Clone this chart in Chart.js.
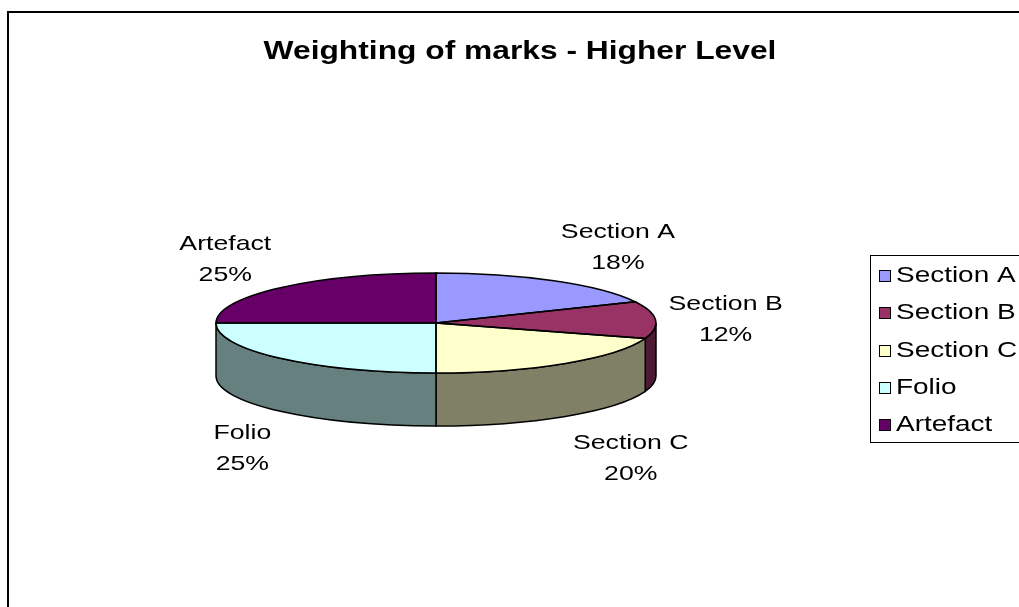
<!DOCTYPE html>
<html>
<head>
<meta charset="utf-8">
<title>Weighting of marks - Higher Level</title>
<script src="https://cdn.jsdelivr.net/npm/chart.js@4"></script>
<style>
    body { margin: 0; background: #fff; }
    canvas { display: block; }
</style>
</head>
<body>
<canvas id="marksChart" width="1019" height="607"></canvas>
<script>
// chart data
const categories = ['Section A', 'Section B', 'Section C', 'Folio', 'Artefact'];
const weights = [18, 12, 20, 25, 25];
const topColors = ['#9999FF', '#993366', '#FFFFCC', '#CCFFFF', '#660066'];
const sideColors = ['#4D4D80', '#4D1A33', '#808066', '#668080', '#330033'];
const chartTitle = 'Weighting of marks - Higher Level';

const FONT = '"Liberation Sans", Arial, sans-serif';
const STRETCH = 1.27;

// where the flattened pie sits on the page
const pie = { x: 436, y: 323, rx: 220, ry: 50, depth: 53 };

function stretchText(ctx, str, x, y) {
    ctx.save();
    ctx.translate(x, y);
    ctx.scale(STRETCH, 1);
    ctx.fillText(str, 0, 0);
    ctx.restore();
}

function sectorPath(ctx, s, e) {
    ctx.beginPath();
    ctx.moveTo(pie.x, pie.y);
    ctx.ellipse(pie.x, pie.y, pie.rx, pie.ry, 0, s, e);
    ctx.closePath();
}

const pie3d = {
    id: 'pie3d',
    beforeDatasetsDraw: function(chart) {
        let ctx = chart.ctx;
        let arcs = chart.getDatasetMeta(0).data;
        // side walls, only the front half (canvas angles 0..PI) is visible
        arcs.forEach((arc, i) => {
            let s = Math.max(arc.startAngle, 0);
            let e = Math.min(arc.endAngle, Math.PI);
            if (s >= e) return;
            ctx.save();
            ctx.beginPath();
            ctx.ellipse(pie.x, pie.y, pie.rx, pie.ry, 0, s, e);
            ctx.lineTo(pie.x + pie.rx * Math.cos(e), pie.y + pie.ry * Math.sin(e) + pie.depth);
            ctx.ellipse(pie.x, pie.y + pie.depth, pie.rx, pie.ry, 0, e, s, true);
            ctx.closePath();
            ctx.fillStyle = sideColors[i];
            ctx.fill();
            ctx.lineWidth = 1.5;
            ctx.strokeStyle = '#000';
            ctx.stroke();
            ctx.restore();
        });
    },
    beforeDatasetDraw: function(chart) {
        let ctx = chart.ctx;
        let arc = chart.getDatasetMeta(0).data[0];
        let r = arc.outerRadius;
        ctx.save();
        ctx.translate(pie.x, pie.y);
        ctx.scale(pie.rx / r, pie.ry / r);
        ctx.translate(-arc.x, -arc.y);
    },
    afterDatasetDraw: function(chart) {
        let ctx = chart.ctx;
        ctx.restore();
        // outline of the top face
        let arcs = chart.getDatasetMeta(0).data;
        ctx.save();
        ctx.lineWidth = 1.5;
        ctx.strokeStyle = '#000';
        arcs.forEach(arc => {
            sectorPath(ctx, arc.startAngle, arc.endAngle);
            ctx.stroke();
        });
        ctx.restore();
    },
    afterDraw: function(chart) {
        let ctx = chart.ctx;
        let arcs = chart.getDatasetMeta(0).data;
        let total = weights.reduce((a, b) => a + b, 0);
        ctx.save();

        // chart frame
        ctx.lineWidth = 2;
        ctx.strokeStyle = '#000';
        ctx.strokeRect(8, 12, 1100, 1000);

        // title
        ctx.fillStyle = '#000';
        ctx.textAlign = 'center';
        ctx.textBaseline = 'alphabetic';
        ctx.font = 'bold 25px ' + FONT;
        stretchText(ctx, chartTitle, 520, 59);

        // data labels
        ctx.font = '21px ' + FONT;
        ctx.textBaseline = 'middle';
        arcs.forEach((arc, i) => {
            let mid = (arc.startAngle + arc.endAngle) / 2;
            let lines = [categories[i], Math.round(weights[i] / total * 100) + '%'];
            let w = Math.max(...lines.map(t => ctx.measureText(t).width)) * STRETCH;
            let cos = Math.cos(mid), sin = Math.sin(mid);
            let lx = pie.x + (pie.rx + 13) * cos + Math.sign(cos) * w / 2;
            let ly = pie.y + (pie.ry + 42) * sin + (sin > 0 ? pie.depth + 6 : 0) + 2;
            stretchText(ctx, lines[0], lx, ly - 15.5);
            stretchText(ctx, lines[1], lx, ly + 15.5);
        });

        // legend
        ctx.lineWidth = 1;
        ctx.strokeRect(870.5, 255.5, 300, 187);
        ctx.textAlign = 'left';
        ctx.font = '22px ' + FONT;
        categories.forEach((name, i) => {
            let y = 276 + i * 37.3;
            ctx.fillStyle = topColors[i];
            ctx.fillRect(879.5, Math.round(y) - 5.5, 11, 11);
            ctx.strokeStyle = '#000';
            ctx.strokeRect(879.5, Math.round(y) - 5.5, 11, 11);
            ctx.fillStyle = '#000';
            stretchText(ctx, name, 896, y);
        });
        ctx.restore();
    }
};

new Chart(document.getElementById('marksChart'), {
    type: 'pie',
    data: {
        labels: categories,
        datasets: [{
            data: weights,
            backgroundColor: topColors,
            borderWidth: 0,
            clip: false
        }]
    },
    options: {
        responsive: false,
        animation: false,
        events: [],
        layout: { padding: 150 },
        plugins: {
            legend: { display: false },
            title: { display: false },
            tooltip: { enabled: false }
        }
    },
    plugins: [pie3d]
});
</script>
</body>
</html>
